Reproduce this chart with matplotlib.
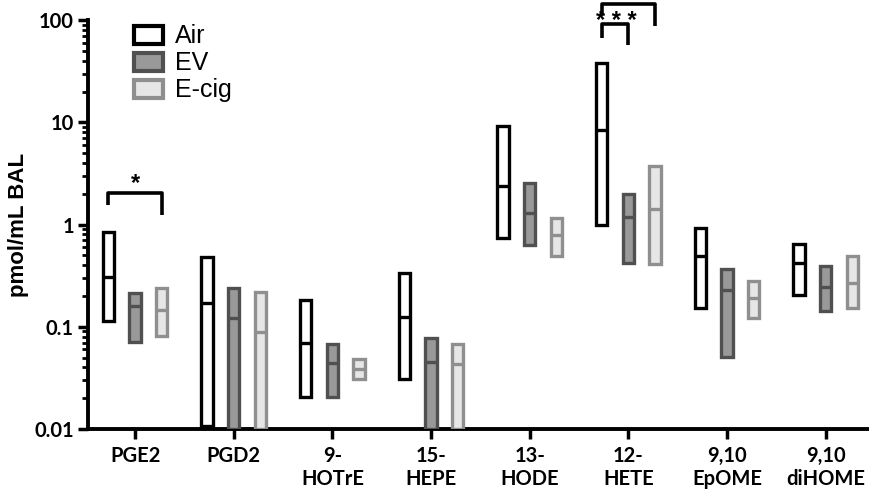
import matplotlib
matplotlib.use("Agg")
import matplotlib.pyplot as plt
from matplotlib.patches import Patch
import numpy as np

# floating bars: min / median / max, pmol/mL BAL
lipids = ["PGE2", "PGD2", "9-\nHOTrE", "15-\nHEPE", "13-\nHODE", "12-\nHETE", "9,10\nEpOME", "9,10\ndiHOME"]

air_min = [0.115, 0.0107, 0.0207, 0.0306, 0.735, 0.99, 0.152, 0.205]
air_med = [0.31, 0.172, 0.069, 0.126, 2.39, 8.4, 0.49, 0.424]
air_max = [0.85, 0.485, 0.183, 0.338, 9.2, 38.4, 0.93, 0.646]

ev_min = [0.0715, 0.01, 0.0207, 0.01, 0.63, 0.418, 0.051, 0.143]
ev_med = [0.16, 0.121, 0.044, 0.045, 1.29, 1.19, 0.229, 0.247]
ev_max = [0.213, 0.238, 0.0674, 0.0772, 2.57, 1.98, 0.368, 0.393]

ecig_min = [0.081, 0.01, 0.0306, 0.01, 0.493, 0.41, 0.121, 0.152]
ecig_med = [0.145, 0.0896, 0.0384, 0.043, 0.79, 1.42, 0.19, 0.27]
ecig_max = [0.241, 0.221, 0.0484, 0.0674, 1.15, 3.77, 0.283, 0.493]

groups = [
    ("Air", air_min, air_med, air_max, "white", "black"),
    ("EV", ev_min, ev_med, ev_max, "#999999", "#505050"),
    ("E-cig", ecig_min, ecig_med, ecig_max, "#e6e6e6", "#8f8f8f"),
]

plt.rcParams['font.family'] = ['Liberation Sans', 'DejaVu Sans']

fig = plt.figure(figsize=(8.69, 4.9), dpi=100)
ax = fig.add_axes([0.101, 0.1245, 0.899, 0.8345])

x = np.arange(len(lipids))
offset = 0.27
w = 0.115
lw = 2.4

handles = []
for k, (name, lo, med, hi, fc, ec) in enumerate(groups):
    xs = x + (k - 1) * offset
    lo = np.array(lo)
    hi = np.array(hi)
    ax.bar(xs, hi - lo, bottom=lo, width=w, facecolor=fc, edgecolor=ec,
           linewidth=lw, zorder=3)
    ax.hlines(med, xs - w / 2, xs + w / 2, colors=ec, linewidth=lw, zorder=4)
    handles.append(Patch(facecolor=fc, edgecolor=ec, linewidth=3, label=name))

ax.set_yscale("log")
ax.set_ylim(0.01, 100)
ax.set_xlim(-0.48, 7.44)

ax.set_yticks([0.01, 0.1, 1, 10, 100])
ax.set_yticklabels(["0.01", "0.1", "1", "10", "100"])
ax.set_xticks(x)
ax.set_xticklabels(lipids)

for lab in ax.get_yticklabels() + ax.get_xticklabels():
    lab.set_fontfamily(["Lato", "DejaVu Sans"])
    lab.set_fontweight("bold")
    lab.set_fontsize(14.5)

ax.tick_params(axis="both", which="major", direction="out", length=7, width=2.5, color="black")
ax.tick_params(axis="y", which="minor", direction="out", length=4, width=2)
ax.tick_params(axis="x", which="major", pad=5)
ax.tick_params(axis="y", which="major", pad=3)

for s in ["top", "right"]:
    ax.spines[s].set_visible(False)
for s in ["left", "bottom"]:
    ax.spines[s].set_linewidth(2.8)

ax.set_ylabel("pmol/mL BAL", fontsize=16, fontweight="bold", labelpad=4)

# significance brackets
def bracket(x1, x2, ytop, yl, yr):
    ax.plot([x1, x1, x2, x2], [yl, ytop, ytop, yr], color="black", lw=2.6,
            clip_on=False, solid_capstyle="butt", zorder=5)

bracket(0 - offset, 0 + offset, 2.05, 1.55, 1.24)
ax.text(0, 2.5, "*", ha="center", va="center", fontsize=17, fontweight="bold")
bracket(5 - offset, 5 + offset, 145, 115, 88)
bracket(5 - offset, 5, 91, 67, 57)
ax.text(4.88, 96, "* * *", ha="center", va="center", fontsize=17,
        fontweight="bold", clip_on=False)

leg = ax.legend(handles=handles, loc="upper left", bbox_to_anchor=(0.043, 1.02),
                frameon=False, fontsize=18, handlelength=1.15, handleheight=0.75,
                handletextpad=0.5, labelspacing=0.12, borderpad=0)

fig.savefig("out.png", dpi=100)
